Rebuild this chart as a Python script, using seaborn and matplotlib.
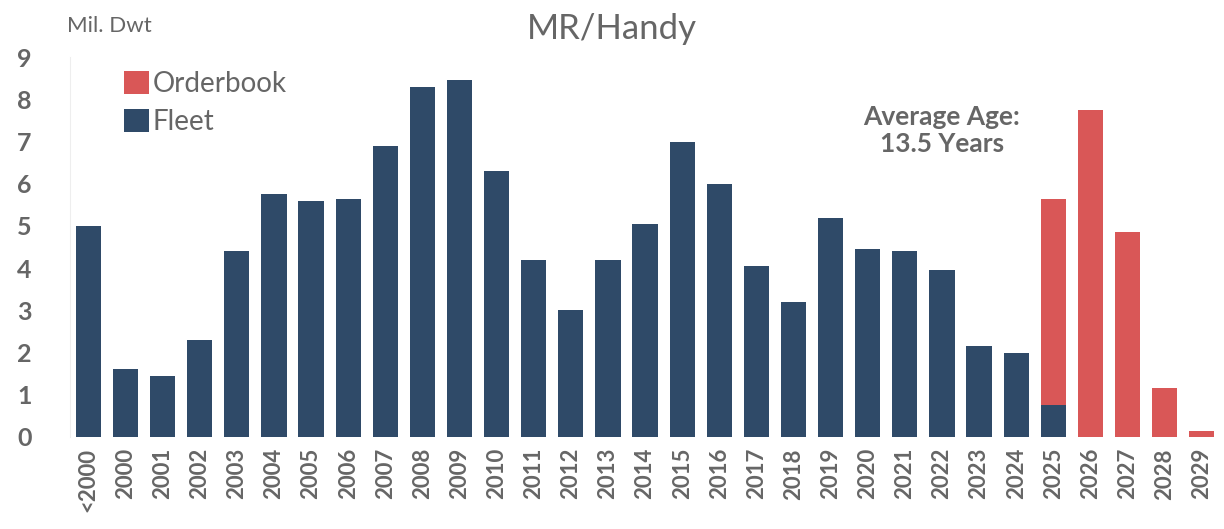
import numpy as np
import pandas as pd
import seaborn as sns
import matplotlib.pyplot as plt

years = ['<2000', '2000', '2001', '2002', '2003', '2004', '2005', '2006', '2007', '2008',
         '2009', '2010', '2011', '2012', '2013', '2014', '2015', '2016', '2017', '2018',
         '2019', '2020', '2021', '2022', '2023', '2024', '2025', '2026', '2027', '2028', '2029']
fleet = [5.0, 1.6, 1.45, 2.3, 4.4, 5.75, 5.6, 5.65, 6.9, 8.3,
         8.45, 6.3, 4.2, 3.0, 4.2, 5.05, 7.0, 6.0, 4.05, 3.2,
         5.2, 4.45, 4.4, 3.95, 2.15, 2.0, 0.75, 0.0, 0.0, 0.0, 0.0]
orderbook = [0.0] * 26 + [4.9, 7.75, 4.85, 1.15, 0.15]

FLEET_C = '#2f4a68'
ORDER_C = '#d95757'
TEXT_C = '#666666'

df = pd.DataFrame({'year': years, 'fleet': fleet, 'orderbook': orderbook})

sns.set_style('white')
plt.rcParams['font.family'] = ['Lato', 'DejaVu Sans']

fig = plt.figure(figsize=(12.24, 5.29), dpi=100)
ax = fig.add_axes([0.057, 0.174, 0.94, 0.718])

sns.barplot(data=df, x='year', y='fleet', color=FLEET_C, width=0.68,
            saturation=1, ax=ax, label='Fleet', linewidth=0)
sns.barplot(data=df, x='year', y='orderbook', color=ORDER_C, width=0.68,
            saturation=1, ax=ax, bottom=df['fleet'], label='Orderbook', linewidth=0)

ax.set_ylim(0, 9)
ax.set_xlim(-0.5, len(years) - 0.5)
ax.set_yticks(range(0, 10))
ax.set_xlabel('')
ax.set_ylabel('')
ax.tick_params(axis='y', labelsize=18, colors=TEXT_C, length=0, pad=38)
for lab in ax.get_yticklabels():
    lab.set_horizontalalignment('left')
ax.tick_params(axis='x', labelsize=16, colors=TEXT_C, length=0, rotation=90, pad=8)
for lab in ax.get_yticklabels() + ax.get_xticklabels():
    lab.set_fontweight('bold')
for s in ['top', 'right', 'bottom']:
    ax.spines[s].set_visible(False)
ax.spines['left'].set_color('#eeeeee')

handles, labels = ax.get_legend_handles_labels()
order = [labels.index('Orderbook'), labels.index('Fleet')]
ax.legend([handles[i] for i in order], [labels[i] for i in order],
          loc='upper left', bbox_to_anchor=(0.025, 1.03), frameon=False,
          fontsize=20, handlelength=0.9, handleheight=0.9, handletextpad=0.15,
          labelspacing=0.45, labelcolor=TEXT_C)

ax.text(23.0, 7.27, 'Average Age:\n13.5 Years', ha='center', va='center',
        fontsize=19, fontweight='bold', color=TEXT_C, linespacing=1.15)

fig.text(0.5, 0.945, 'MR/Handy', ha='center', va='center', fontsize=25, color=TEXT_C)
fig.text(0.055, 0.95, 'Mil. Dwt', ha='left', va='center', fontsize=16, color=TEXT_C)

fig.savefig('out.png', dpi=100)
